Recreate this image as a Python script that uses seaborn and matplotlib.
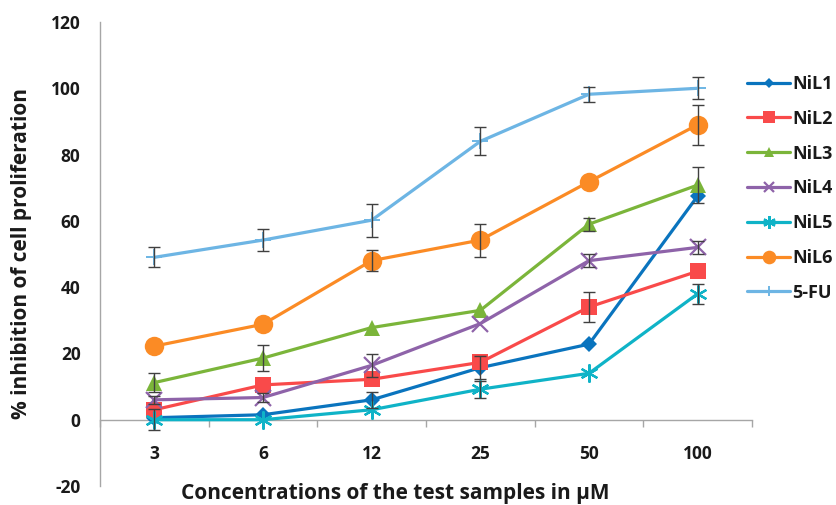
import matplotlib
matplotlib.use("Agg")
import matplotlib.pyplot as plt
from matplotlib.ticker import FixedLocator, MultipleLocator
import numpy as np
import pandas as pd
import seaborn as sns

# Concentrations (µM) tested
concentrations = ["3", "6", "12", "25", "50", "100"]

# Mean % inhibition for each compound
nil1 = [0.6, 1.5, 6.0, 15.7, 22.8, 67.5]
nil2 = [3.0, 10.5, 12.2, 17.3, 34.0, 44.8]
nil3 = [11.2, 18.6, 27.8, 33.0, 59.0, 70.8]
nil4 = [6.0, 6.7, 16.4, 29.0, 48.0, 52.0]
nil5 = [0.0, 0.0, 3.0, 9.2, 14.0, 38.0]
nil6 = [22.2, 28.8, 48.0, 54.2, 71.8, 89.0]
fu5 = [49.0, 54.2, 60.2, 84.0, 98.2, 100.0]

# Standard deviations
nil1_err = [0.0, 0.0, 2.5, 3.5, 0.0, 0.0]
nil2_err = [0.0, 0.0, 0.0, 0.0, 4.5, 0.0]
nil3_err = [2.9, 4.0, 0.0, 0.0, 2.0, 5.3]
nil4_err = [1.2, 1.5, 3.4, 0.0, 2.0, 2.0]
nil5_err = [3.2, 0.0, 0.0, 2.5, 0.0, 3.0]
nil6_err = [0.0, 0.0, 3.2, 5.0, 0.0, 6.0]
fu5_err = [3.0, 3.4, 5.0, 4.2, 2.3, 3.3]

labels = ["NiL1", "NiL2", "NiL3", "NiL4", "NiL5", "NiL6", "5-FU"]
means = [nil1, nil2, nil3, nil4, nil5, nil6, fu5]
errors = [nil1_err, nil2_err, nil3_err, nil4_err, nil5_err, nil6_err, fu5_err]

colors = ["#0A74BE", "#F94A4A", "#7BB53A", "#8E63A9", "#0FB3C7", "#FB8B25", "#6DB5E4"]
asterisk = (6, 2, 0)
markers = ["D", "s", "^", "x", asterisk, "o", "+"]
msizes = [8, 12, 11, 11, 13, 14, 11]
medges = [0, 0, 0, 1.6, 1.6, 0, 1.4]

sns.set_theme(style="white")
plt.rcParams["font.family"] = ["Open Sans", "DejaVu Sans"]
plt.rcParams["font.weight"] = "bold"
plt.rcParams["axes.unicode_minus"] = False

fig = plt.figure(figsize=(8.36, 5.05), dpi=100)
ax = fig.add_axes([100 / 836, 1 - 486 / 505, 652 / 836, 464 / 505])

x_idx = np.arange(len(concentrations))
for name, m, e, c, mk, ms, mew in zip(labels, means, errors, colors, markers, msizes, medges):
    df = pd.DataFrame({"conc": x_idx, "inhibition": m})
    sns.lineplot(data=df, x="conc", y="inhibition", ax=ax, color=c, linewidth=2.3,
                 marker=mk, markersize=ms, markeredgewidth=mew,
                 markeredgecolor=c, label=name, zorder=3)
    err = np.array(e)
    sel = err > 0
    ax.errorbar(x_idx[sel], np.array(m)[sel], yerr=err[sel], fmt="none",
                ecolor="#404040", elinewidth=1.0, capsize=4, capthick=1.0, zorder=4)

handles, lbls = ax.get_legend_handles_labels()
if ax.get_legend() is not None:
    ax.get_legend().remove()

ax.set_xlim(-0.5, 5.5)
ax.set_ylim(-20, 120)

ax.spines["top"].set_visible(False)
ax.spines["right"].set_visible(False)
ax.spines["bottom"].set_position(("data", 0))
for s in ("left", "bottom"):
    ax.spines[s].set_color("#A6A6A6")
    ax.spines[s].set_linewidth(1.0)

ax.yaxis.set_major_locator(MultipleLocator(20))
ax.tick_params(axis="y", which="major", direction="out", length=5, width=1,
               color="#A6A6A6", pad=9, labelsize=12.5, labelcolor="#1a1a1a")
ax.xaxis.set_major_locator(FixedLocator(x_idx))
ax.set_xticklabels(concentrations)
ax.xaxis.set_minor_locator(FixedLocator(np.arange(-0.5, 6.0, 1.0)))
ax.tick_params(axis="x", which="major", length=0, pad=18, labelsize=12.5,
               labelcolor="#1a1a1a")
ax.tick_params(axis="x", which="minor", direction="out", length=5, width=1,
               color="#A6A6A6", bottom=True)
for t in ax.get_xticklabels() + ax.get_yticklabels():
    t.set_fontweight("bold")

ax.set_xlabel("Concentrations of the test samples in μM", fontsize=15,
              fontweight="bold", color="#1a1a1a")
ax.xaxis.set_label_coords((395 - 100) / 652, -(493 - 486) / 464, transform=ax.transAxes)
ax.xaxis.label.set_verticalalignment("center")
ax.set_ylabel("% inhibition of cell proliferation", fontsize=15,
              fontweight="bold", color="#1a1a1a")
ax.yaxis.set_label_coords(-(100 - 22) / 652, 0.5)
ax.yaxis.label.set_verticalalignment("center")

leg = fig.legend(handles, lbls, loc="upper left", bbox_to_anchor=(747 / 836, 1 - 75 / 505),
                 frameon=False, handlelength=2.4, handletextpad=0.12,
                 labelspacing=0.93, borderaxespad=0, borderpad=0,
                 prop={"weight": "bold", "size": 13})
for h in leg.legend_handles:
    h.set_markersize(h.get_markersize() * 0.7)
for t in leg.get_texts():
    t.set_color("#1a1a1a")

fig.savefig("out.png", dpi=100, facecolor="white")
